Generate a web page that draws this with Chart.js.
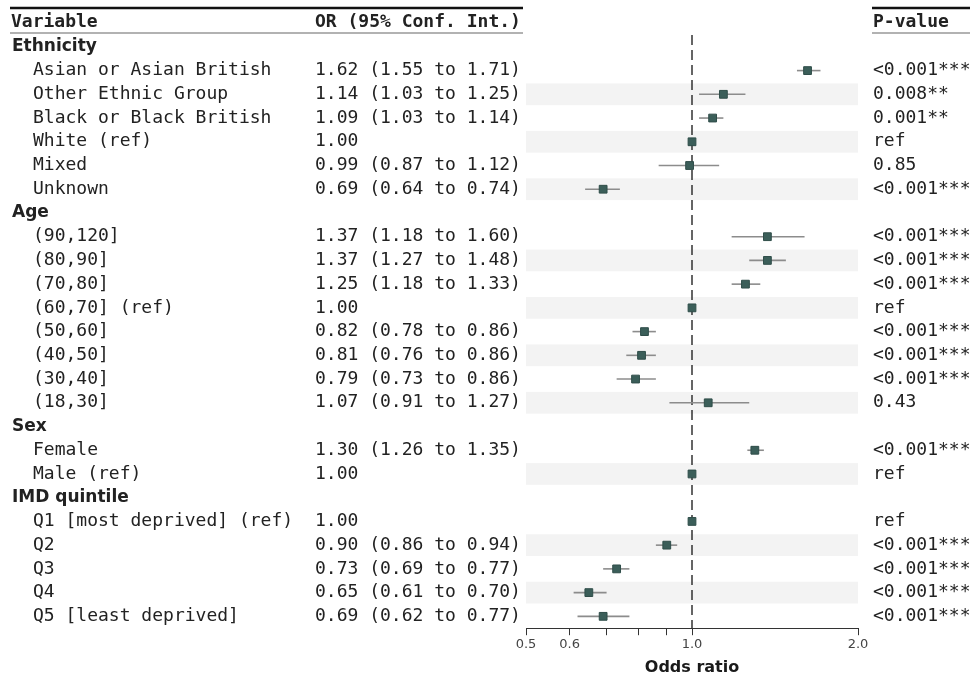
<!DOCTYPE html>
<html>
<head>
<meta charset="utf-8">
<script src="https://cdn.jsdelivr.net/npm/chart.js@4/dist/chart.umd.min.js"></script>
<style>
    html, body { margin: 0; padding: 0; background: #fff; }
    #wrap { width: 970px; height: 680px; position: relative; }
</style>
</head>
<body>
<div id="wrap"><canvas id="forest"></canvas></div>
<script>
    // groups and their levels
    const groupNames = ['Ethnicity', 'Age', 'Sex', 'IMD quintile'];
    const levelNames = [
        'Asian or Asian British', 'Other Ethnic Group', 'Black or Black British', 'White (ref)', 'Mixed', 'Unknown',
        '(90,120]', '(80,90]', '(70,80]', '(60,70] (ref)', '(50,60]', '(40,50]', '(30,40]', '(18,30]',
        'Female', 'Male (ref)',
        'Q1 [most deprived] (ref)', 'Q2', 'Q3', 'Q4', 'Q5 [least deprived]'
    ];
    const levelGroup = [0, 0, 0, 0, 0, 0, 1, 1, 1, 1, 1, 1, 1, 1, 2, 2, 3, 3, 3, 3, 3];
    const oddsRatio = [1.62, 1.14, 1.09, 1.00, 0.99, 0.69, 1.37, 1.37, 1.25, 1.00, 0.82, 0.81, 0.79, 1.07, 1.30, 1.00, 1.00, 0.90, 0.73, 0.65, 0.69];
    const ciLower = [1.55, 1.03, 1.03, null, 0.87, 0.64, 1.18, 1.27, 1.18, null, 0.78, 0.76, 0.73, 0.91, 1.26, null, null, 0.86, 0.69, 0.61, 0.62];
    const ciUpper = [1.71, 1.25, 1.14, null, 1.12, 0.74, 1.60, 1.48, 1.33, null, 0.86, 0.86, 0.86, 1.27, 1.35, null, null, 0.94, 0.77, 0.70, 0.77];
    const pValues = [
        '<0.001***', '0.008**', '0.001**', 'ref', '0.85', '<0.001***',
        '<0.001***', '<0.001***', '<0.001***', 'ref', '<0.001***', '<0.001***', '<0.001***', '0.43',
        '<0.001***', 'ref',
        'ref', '<0.001***', '<0.001***', '<0.001***', '<0.001***'
    ];
    const xTicks = [0.5, 0.6, 0.7, 0.8, 0.9, 1.0, 2.0];
    const xTickLabels = ['0.5', '0.6', '', '', '', '1.0', '2.0'];

    const MONO = '"DejaVu Sans Mono", monospace';
    const SANS = '"DejaVu Sans", sans-serif';

    // build table rows: group header followed by its levels
    const rows = [];
    groupNames.forEach((g, gi) => {
        rows.push({ header: true, label: g });
        let k = 0;
        levelNames.forEach((name, i) => {
            if (levelGroup[i] !== gi) return;
            rows.push({ header: false, label: name, i, shade: k % 2 === 1 });
            k++;
        });
    });

    const points = [];
    rows.forEach((r, idx) => { if (!r.header) points.push({ x: oddsRatio[r.i], y: idx, i: r.i }); });

    function fmt(v) { return v.toFixed(2); }

    const forestPlugin = {
        id: 'forest',
        beforeDatasetsDraw(chart) {
            const { ctx, chartArea: a, scales: { x, y } } = chart;
            const rowH = Math.abs(y.getPixelForValue(1) - y.getPixelForValue(0));
            ctx.save();
            // shaded bands
            ctx.fillStyle = '#f3f3f3';
            rows.forEach((r, idx) => {
                if (r.shade) ctx.fillRect(a.left, y.getPixelForValue(idx) - rowH / 2 + 1, a.right - a.left, rowH - 2);
            });
            // reference line at OR = 1
            ctx.strokeStyle = '#333';
            ctx.lineWidth = 1.5;
            ctx.setLineDash([10, 5]);
            ctx.beginPath();
            ctx.moveTo(x.getPixelForValue(1), a.top);
            ctx.lineTo(x.getPixelForValue(1), a.bottom);
            ctx.stroke();
            ctx.setLineDash([]);
            // confidence intervals
            ctx.strokeStyle = '#8c8c8c';
            ctx.lineWidth = 1.6;
            points.forEach(p => {
                if (ciLower[p.i] == null) return;
                const py = y.getPixelForValue(p.y);
                ctx.beginPath();
                ctx.moveTo(x.getPixelForValue(ciLower[p.i]), py);
                ctx.lineTo(x.getPixelForValue(ciUpper[p.i]), py);
                ctx.stroke();
            });
            ctx.restore();
        },
        afterDraw(chart) {
            const { ctx, scales: { y } } = chart;
            ctx.save();
            ctx.textBaseline = 'middle';
            ctx.fillStyle = '#222';
            // column headers
            ctx.font = 'bold 18px ' + MONO;
            ctx.fillText('Variable', 11, 22);
            ctx.fillText('OR (95% Conf. Int.)', 315, 22);
            ctx.fillText('P-value', 873, 22);
            // rules
            ctx.strokeStyle = '#111';
            ctx.lineWidth = 2.5;
            ctx.beginPath();
            ctx.moveTo(10, 8); ctx.lineTo(523, 8);
            ctx.moveTo(872, 8); ctx.lineTo(970, 8);
            ctx.stroke();
            ctx.strokeStyle = '#666';
            ctx.lineWidth = 1.2;
            ctx.beginPath();
            ctx.moveTo(10, 33); ctx.lineTo(523, 33);
            ctx.moveTo(872, 33); ctx.lineTo(970, 33);
            ctx.stroke();
            // rows
            rows.forEach((r, idx) => {
                const py = y.getPixelForValue(idx);
                if (r.header) {
                    ctx.font = 'bold 17px ' + SANS;
                    ctx.fillText(r.label, 12, py);
                    return;
                }
                ctx.font = '18px ' + MONO;
                ctx.fillText(r.label, 33, py);
                const ci = ciLower[r.i] == null ? '' : ' (' + fmt(ciLower[r.i]) + ' to ' + fmt(ciUpper[r.i]) + ')';
                ctx.fillText(fmt(oddsRatio[r.i]) + ci, 315, py);
                ctx.fillText(pValues[r.i], 873, py);
            });
            ctx.restore();
        }
    };

    new Chart(document.getElementById('forest'), {
        type: 'scatter',
        data: {
            datasets: [{
                data: points,
                pointStyle: 'rect',
                pointRadius: 5.5,
                backgroundColor: '#3b5e59',
                borderColor: '#2f4d49',
                borderWidth: 1
            }]
        },
        options: {
            responsive: true,
            maintainAspectRatio: false,
            animation: false,
            layout: { padding: { left: 526, right: 112, top: 35, bottom: 3 } },
            plugins: { legend: { display: false }, tooltip: { enabled: false } },
            scales: {
                x: {
                    type: 'logarithmic',
                    min: 0.5,
                    max: 2,
                    afterBuildTicks: scale => { scale.ticks = xTicks.map(v => ({ value: v })); },
                    ticks: {
                        autoSkip: false,
                        maxRotation: 0,
                        padding: 2,
                        color: '#444',
                        font: { family: SANS, size: 13 },
                        callback: (v, i) => xTickLabels[i]
                    },
                    grid: { drawOnChartArea: false, tickLength: 7, color: '#333' },
                    border: { color: '#333', width: 1 },
                    title: {
                        display: true,
                        text: 'Odds ratio',
                        color: '#1a1a1a',
                        font: { family: SANS, size: 16, weight: 'bold' },
                        padding: { top: 3, bottom: 0 }
                    }
                },
                y: {
                    type: 'linear',
                    reverse: true,
                    min: -0.5,
                    max: 24.5,
                    display: false
                }
            }
        },
        plugins: [forestPlugin]
    });
</script>
</body>
</html>
